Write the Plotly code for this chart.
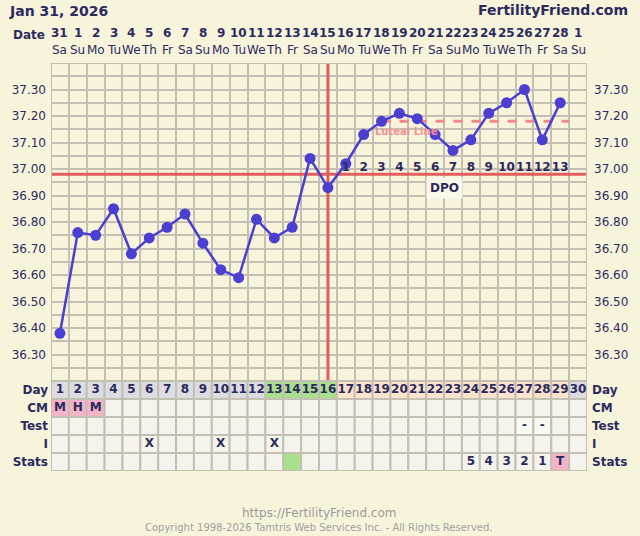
import plotly.graph_objects as go

# ---------------- data ----------------
days = list(range(1, 31))
dates = ["31"] + [str(i) for i in range(1, 29)] + ["1"]
weekdays = ["Sa", "Su", "Mo", "Tu", "We", "Th", "Fr"] * 5
weekdays = weekdays[:30]
temps = [36.38, 36.76, 36.75, 36.85, 36.68, 36.74, 36.78, 36.83, 36.72, 36.62,
         36.59, 36.81, 36.74, 36.78, 37.04, 36.93, 37.02, 37.13, 37.18, 37.21,
         37.19, 37.13, 37.07, 37.11, 37.21, 37.25, 37.30, 37.11, 37.25]
temp_days = days[:len(temps)]
coverline = 36.98
ovulation_day = 16
luteal_level = 37.18
luteal_start, luteal_end = 19, 29
dpo_days = list(range(17, 30))
dpo_labels = [str(i) for i in range(1, 14)]
ytick_vals = [36.3, 36.4, 36.5, 36.6, 36.7, 36.8, 36.9, 37.0, 37.1, 37.2, 37.3]
ytick_text = ["%.2f" % v for v in ytick_vals]
row_names = ["Day", "CM", "Test", "I", "Stats"]
day_phase = ["pre"] * 12 + ["fertile"] * 4 + ["luteal"] * 13 + ["future"]
cm_entries = {1: "M", 2: "H", 3: "M"}
test_entries = {27: "-", 28: "-"}
intercourse_entries = {6: "X", 10: "X", 13: "X"}
stats_entries = {24: "5", 25: "4", 26: "3", 27: "2", 28: "1", 29: "T"}
stats_colors = {14: "green", 29: "pink"}

# ---------------- style ----------------
BG = "#f8f4dc"
GRID = "#c3bfb3"
NAVY = "#2b2a5e"
LINE = "#4b3fd1"
RED = "#e25d5d"
CELL = "#f4f4ec"
FONT = "DejaVu Sans"
phase_colors = {"pre": "#dcdce2", "fertile": "#a8e08e", "luteal": "#fde2cc", "future": "#dcdce2"}
pal = {"green": "#a8e08e", "pink": "#f4b4c8"}

fig = go.Figure()

# temperature line
fig.add_trace(go.Scatter(x=temp_days, y=temps, mode="lines+markers",
                         line=dict(color=LINE, width=2.5),
                         marker=dict(color=LINE, size=11),
                         xaxis="x", yaxis="y", hoverinfo="skip", showlegend=False))

# DPO labels
fig.add_trace(go.Scatter(x=dpo_days, y=[coverline] * len(dpo_days), mode="text",
                         text=dpo_labels, textposition="top center",
                         textfont=dict(family=FONT, size=12, color=NAVY, weight="bold"),
                         xaxis="x", yaxis="y", hoverinfo="skip", showlegend=False))

shapes = []
# coverline + ovulation line
shapes.append(dict(type="line", xref="x", yref="y", x0=0.5, x1=30.5, y0=coverline, y1=coverline,
                   line=dict(color=RED, width=3), layer="between"))
shapes.append(dict(type="line", xref="x", yref="y", x0=ovulation_day, x1=ovulation_day,
                   y0=36.2, y1=37.4, line=dict(color=RED, width=3), layer="between"))
shapes.append(dict(type="line", xref="x", yref="y", x0=luteal_start, x1=luteal_end + 0.5,
                   y0=luteal_level, y1=luteal_level,
                   line=dict(color="#f08a8a", width=3, dash="dash"), layer="between"))

# table cells
row_texts = [dates, cm_entries, test_entries, intercourse_entries, stats_entries]
tx, ty, tt = [], [], []
for r in range(5):
    for i, d in enumerate(days):
        fill = CELL
        if r == 0:
            fill = phase_colors[day_phase[i]]
        elif r == 1 and d in cm_entries:
            fill = pal["pink"]
        elif r == 2 and d in test_entries:
            fill = "#fafaf4"
        elif r == 4 and d in stats_colors:
            fill = pal[stats_colors[d]]
        shapes.append(dict(type="rect", xref="x", yref="y2", x0=d - 0.5, x1=d + 0.5,
                           y0=r, y1=r + 1, fillcolor=fill, line=dict(color=GRID, width=2),
                           layer="between"))
        if r == 0:
            tx.append(d); ty.append(r + 0.5); tt.append(str(d))
        elif d in row_texts[r]:
            tx.append(d); ty.append(r + 0.5); tt.append(row_texts[r][d])

fig.add_trace(go.Scatter(x=tx, y=ty, mode="text", text=tt, textposition="middle center",
                         textfont=dict(family=FONT, size=12, color=NAVY, weight="bold"),
                         xaxis="x", yaxis="y2", hoverinfo="skip", showlegend=False))

# border of temperature area
shapes.append(dict(type="rect", xref="x", yref="y", x0=0.5, x1=30.5, y0=36.2, y1=37.4,
                   line=dict(color=GRID, width=2), layer="between"))

annotations = []
H = 408.0
def py(p):
    return 1 + (63 - p) / H
for i, d in enumerate(days):
    annotations.append(dict(x=d, y=py(33), xref="x", yref="paper", text="<b>%s</b>" % dates[i],
                            yanchor="middle", showarrow=False, font=dict(family=FONT, size=12, color=NAVY)))
    annotations.append(dict(x=d, y=py(50), xref="x", yref="paper", text=weekdays[i],
                            yanchor="middle", showarrow=False, font=dict(family=FONT, size=12, color=NAVY)))
annotations.append(dict(x=(46 - 50) / 540, y=py(35), xref="paper", yref="paper", text="<b>Date</b>",
                        xanchor="right", yanchor="middle", showarrow=False,
                        font=dict(family=FONT, size=12, color=NAVY)))
annotations.append(dict(x=(6 - 50) / 540, y=py(11), xref="paper", yref="paper", text="<b>Jan 31, 2026</b>",
                        xanchor="left", yanchor="middle", showarrow=False,
                        font=dict(family=FONT, size=14, color=NAVY)))
annotations.append(dict(x=(633 - 50) / 540, y=py(10), xref="paper", yref="paper",
                        text="<b>FertilityFriend.com</b>", xanchor="right", yanchor="middle", showarrow=False,
                        font=dict(family=FONT, size=14, color=NAVY)))
annotations.append(dict(x=22.5, y=coverline, xref="x", yref="y", yshift=-14, text="<b>DPO</b>",
                        showarrow=False, bgcolor="#fbf8ea", borderpad=3,
                        font=dict(family=FONT, size=12, color=NAVY)))
annotations.append(dict(x=20.4, y=luteal_level, xref="x", yref="y", yshift=-10, text="<b>Luteal Line</b>",
                        showarrow=False, font=dict(family=FONT, size=10, color="#f49090")))
annotations.append(dict(x=0.5, y=py(513), xref="paper", yref="paper", text="https://FertilityFriend.com",
                        yanchor="middle", showarrow=False, font=dict(family=FONT, size=12, color="#9a9a9a")))
annotations.append(dict(x=0.5, y=py(527), xref="paper", yref="paper",
                        text="Copyright 1998-2026 Tamtris Web Services Inc. - All Rights Reserved.",
                        yanchor="middle", showarrow=False, font=dict(family=FONT, size=10, color="#a0a0a0")))

tdom = [90 / H, 1]
fig.update_layout(
    width=640, height=536,
    margin=dict(l=50, r=50, t=63, b=65),
    paper_bgcolor=BG, plot_bgcolor=BG,
    showlegend=False,
    font=dict(family=FONT, color=NAVY, size=12),
    xaxis=dict(range=[0.5, 30.5], tickvals=[d + 0.5 for d in range(0, 31)], showticklabels=False,
               showgrid=True, gridcolor=GRID, gridwidth=2, zeroline=False, ticks="", anchor="y",
               fixedrange=True),
    yaxis=dict(domain=tdom, range=[36.2, 37.4], tickvals=ytick_vals, ticktext=ytick_text,
               showgrid=True, gridcolor=GRID, gridwidth=2, zeroline=False, ticks="",
               ticklabelstandoff=4, tickfont=dict(family=FONT, size=12, color=NAVY),
               minor=dict(dtick=0.05, tick0=36.2, showgrid=True, gridcolor=GRID, gridwidth=2),
               anchor="x"),
    yaxis3=dict(overlaying="y", side="right", matches="y", range=[36.2, 37.4], tickvals=ytick_vals,
                ticktext=ytick_text, showgrid=False, zeroline=False, ticks="", ticklabelstandoff=6,
                tickfont=dict(family=FONT, size=12, color=NAVY), anchor="x"),
    yaxis2=dict(domain=[0, 90 / H], range=[5, 0], tickvals=[0.5, 1.5, 2.5, 3.5, 4.5],
                ticktext=row_names, showgrid=False, zeroline=False, ticks="", ticklabelstandoff=2,
                tickfont=dict(family=FONT, size=12, color=NAVY, weight="bold"), anchor="x"),
    yaxis4=dict(overlaying="y2", side="right", range=[5, 0], tickvals=[0.5, 1.5, 2.5, 3.5, 4.5],
                ticktext=row_names, showgrid=False, zeroline=False, ticks="", ticklabelstandoff=4,
                tickfont=dict(family=FONT, size=12, color=NAVY, weight="bold"), anchor="x"),
    shapes=shapes, annotations=annotations,
)
# invisible traces to activate right axes
fig.add_trace(go.Scatter(x=[None], y=[None], xaxis="x", yaxis="y3", showlegend=False, hoverinfo="skip"))
fig.add_trace(go.Scatter(x=[None], y=[None], xaxis="x", yaxis="y4", showlegend=False, hoverinfo="skip"))

fig.write_html("out.html", config={"displayModeBar": False, "staticPlot": True},
               post_script="document.body.style.margin='0';document.body.style.background='%s';" % BG)
